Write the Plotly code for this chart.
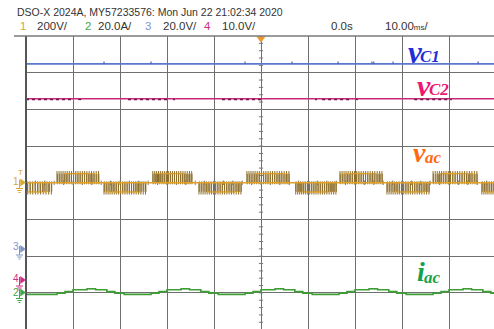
import plotly.graph_objects as go

# ---------------- display geometry (pixels) ----------------
FIG_W, FIG_H = 494, 329
PLOT_L, PLOT_T = 26, 36
DIV_PX_X, DIV_PX_Y = 47.0, 36.7
MS_PER_DIV = 10.0
PLOT_W = FIG_W - PLOT_L
PLOT_H = FIG_H - PLOT_T
X_MIN = -5 * MS_PER_DIV
X_MAX = X_MIN + PLOT_W / DIV_PX_X * MS_PER_DIV
Y_MAX = 4.0
Y_MIN = Y_MAX - PLOT_H / DIV_PX_Y

# ---------------- channel setup ----------------
ch_scale = {"1": 200.0, "2": 20.0, "3": 20.0, "4": 10.0}       # units / div
ch_ground_div = {"1": 0.0, "2": -2.99, "3": -1.81, "4": -2.66}  # ground marker, div from centre
ch_color = {"1": "#d9a82a", "2": "#3fa64a", "3": "#7f93c9", "4": "#cc2f84"}

# ---------------- capacitor voltages ----------------
vc1_level = 101.0
vc1_spike_t = [-33.4, -23.4, -3.4, 6.6, 16.4, 23.6, 24.0, 28.1, 46.2]
vc1_spike_v = 1.3
vc2_level = 49.5
vc2_ripple_start = [-50.0, -38.9, -28.3, -18.7, -8.3, 11.5, 13.0, 20.2, 32.6]
vc2_ripple_end = [-40.2, -37.9, -19.8, -18.3, 0.2, 11.9, 19.4, 20.6, 40.6]
vc2_ripple_v = -0.2

# ---------------- output voltage (PWM half-cycles, ms) ----------------
vac_band_start = [-55.0, -43.6, -33.6, -23.2, -13.4, -3.2, 7.2, 16.6, 26.6, 36.4, 46.8]
vac_band_end = [-44.3, -34.3, -24.3, -14.5, -4.0, 6.2, 16.2, 26.0, 36.0, 46.2, 56.0]
vac_band_sign = [-1, 1, -1, 1, -1, 1, -1, 1, -1, 1, -1]
vac_level = 50.0
vac_overshoot = 14.0
vac_undershoot = 8.0
# switching instants as fractions of each half-cycle
pwm_on = [0.021, 0.068, 0.114, 0.160, 0.207, 0.255, 0.303, 0.352, 0.401, 0.451,
          0.501, 0.551, 0.602, 0.653, 0.705, 0.757, 0.810, 0.864, 0.918, 0.971]
pwm_off = [0.029, 0.083, 0.136, 0.190, 0.243, 0.296, 0.348, 0.399, 0.449, 0.499,
           0.549, 0.599, 0.649, 0.698, 0.746, 0.793, 0.840, 0.886, 0.933, 0.979]

# ---------------- output current (staircase, ms / A) ----------------
iac_t = [-50.0,
         -43.4, -41.7, -40.0, -37.0, -36.4, -36.4, -35.8, -35.8, -35.2, -32.8, -31.1, -29.1,
         -23.4, -21.7, -20.0, -17.0, -16.4, -16.4, -15.8, -15.8, -15.2, -12.8, -11.1, -9.1,
         -3.4, -1.7, 0.0, 3.0, 3.6, 3.6, 4.2, 4.2, 4.8, 7.2, 8.9, 10.9,
         16.6, 18.3, 20.0, 23.0, 23.6, 23.6, 24.2, 24.2, 24.8, 27.2, 28.9, 30.9,
         36.6, 38.3, 40.0, 43.0, 43.6, 43.6, 44.2, 44.2, 44.8, 47.2, 48.9, 50.9]
iac_a = [-1.0,
         -0.3, 0.5, 1.5, 2.05, 1.5, 2.05, 1.5, 2.05, 1.5, 0.5, -0.3, -1.0,
         -0.3, 0.5, 1.5, 2.05, 1.5, 2.05, 1.5, 2.05, 1.5, 0.5, -0.3, -1.0,
         -0.3, 0.5, 1.5, 2.05, 1.5, 2.05, 1.5, 2.05, 1.5, 0.5, -0.3, -1.0,
         -0.3, 0.5, 1.5, 2.05, 1.5, 2.05, 1.5, 2.05, 1.5, 0.5, -0.3, -1.0,
         -0.3, 0.5, 1.5, 2.05, 1.5, 2.05, 1.5, 2.05, 1.5, 0.5, -0.3, -1.0]


def to_div(ch, v):
    return ch_ground_div[ch] + v / ch_scale[ch]


def px_x(px):
    return (px - PLOT_L) / PLOT_W


def px_y(py):
    return (FIG_H - py) / PLOT_H


fig = go.Figure()

# ---------- graticule centre-axis minor ticks ----------
tick_x, tick_y = [], []
k = 0
while Y_MAX - k * 0.2 >= Y_MIN:
    yv = Y_MAX - k * 0.2
    tick_x += [-0.45, 0.45, None]
    tick_y += [yv, yv, None]
    k += 1
k = 0
while X_MIN + k * 2.0 <= X_MAX:
    xv = X_MIN + k * 2.0
    tick_x += [xv, xv, None]
    tick_y += [-0.06, 0.06, None]
    k += 1
fig.add_trace(go.Scatter(x=tick_x, y=tick_y, mode="lines",
                         line=dict(color="#7a7a7a", width=1), hoverinfo="skip"))

# ---------- channel 3: vC1 ----------
fig.add_trace(go.Scatter(x=[X_MIN, X_MAX], y=[to_div("3", vc1_level)] * 2, mode="lines",
                         line=dict(color="#5a78cc", width=1.6), hoverinfo="skip"))
sp_x, sp_y = [], []
for t in vc1_spike_t:
    sp_x += [t, t, None]
    sp_y += [to_div("3", vc1_level), to_div("3", vc1_level + vc1_spike_v), None]
fig.add_trace(go.Scatter(x=sp_x, y=sp_y, mode="lines",
                         line=dict(color="#4a62b0", width=1.2), hoverinfo="skip"))

# ---------- channel 4: vC2 ----------
fig.add_trace(go.Scatter(x=[X_MIN, X_MAX], y=[to_div("4", vc2_level)] * 2, mode="lines",
                         line=dict(color="#c8287e", width=1.6), hoverinfo="skip"))
rp_x, rp_y = [], []
for a, b in zip(vc2_ripple_start, vc2_ripple_end):
    rp_x += [a, b, None]
    rp_y += [to_div("4", vc2_level + vc2_ripple_v)] * 2 + [None]
fig.add_trace(go.Scatter(x=rp_x, y=rp_y, mode="lines",
                         line=dict(color="#7a1448", width=1.3, dash="dot"), hoverinfo="skip"))

# ---------- channel 1: vac ----------
edge_x, edge_y, flat_x, flat_y = [], [], [X_MIN, X_MAX, None], [0.0, 0.0, None]
for s, e, sg in zip(vac_band_start, vac_band_end, vac_band_sign):
    span = e - s
    for a, b in zip(pwm_on, pwm_off):
        t0, t1 = s + a * span, s + b * span
        edge_x += [t0, t0, None, t1, t1, None]
        edge_y += [to_div("1", 0.0), to_div("1", sg * (vac_level + vac_overshoot)), None,
                   to_div("1", sg * vac_level), to_div("1", -sg * vac_undershoot), None]
        flat_x += [t0, t1, None]
        flat_y += [to_div("1", sg * vac_level)] * 2 + [None]
fig.add_trace(go.Scatter(x=edge_x, y=edge_y, mode="lines",
                         line=dict(color="#8c6e2c", width=1), hoverinfo="skip"))
fig.add_trace(go.Scatter(x=flat_x, y=flat_y, mode="lines",
                         line=dict(color="#e2a024", width=1.4), hoverinfo="skip"))

# ---------- channel 2: iac ----------
fig.add_trace(go.Scatter(x=iac_t, y=[to_div("2", v) for v in iac_a], mode="lines",
                         line=dict(color="#3f9d36", width=1.6, shape="hv"), hoverinfo="skip"))

# ---------- trigger position marker ----------
fig.add_trace(go.Scatter(x=[0], y=[Y_MAX - 0.07], mode="markers", cliponaxis=False,
                         marker=dict(symbol="triangle-down", size=8, color="#f0962c"),
                         hoverinfo="skip"))

shapes = []
# outer frame: left edge and top edge
shapes.append(dict(type="line", xref="paper", yref="paper", x0=0, x1=0, y0=0, y1=1,
                   line=dict(color="#555555", width=2)))
shapes.append(dict(type="line", xref="paper", yref="paper", x0=px_x(14), x1=1, y0=1, y1=1,
                   line=dict(color="#7a7a7a", width=1.5)))

annotations = []
hdr_font = "Liberation Sans, Arial, sans-serif"

# ---------- channel ground markers ----------
marker_specs = [("1", 182.5, 181.0), ("3", 249.0, 246.5), ("4", 280.0, 278.5), ("2", 292.5, 292.5)]
for ch, ya, yl in marker_specs:
    col = ch_color[ch]
    annotations.append(dict(text=ch, x=px_x(15.5), y=px_y(yl), xref="paper", yref="paper",
                            showarrow=False, xanchor="center", yanchor="middle",
                            font=dict(family=hdr_font, size=10, color=col)))
    shapes.append(dict(type="path", xref="paper", yref="paper",
                       path=f"M {px_x(20.5)},{px_y(ya - 3.5)} L {px_x(25.5)},{px_y(ya)} L {px_x(20.5)},{px_y(ya + 3.5)} Z",
                       fillcolor=col, line=dict(color=col, width=0.5)))
    shapes.append(dict(type="line", xref="paper", yref="paper", x0=px_x(19.5), x1=px_x(19.5),
                       y0=px_y(ya - 3), y1=px_y(ya + 6), line=dict(color=col, width=1)))
    for dy, hw in [(6, 3.5), (8, 2.2), (10, 1)]:
        shapes.append(dict(type="line", xref="paper", yref="paper",
                           x0=px_x(19.5 - hw), x1=px_x(19.5 + hw),
                           y0=px_y(ya + dy), y1=px_y(ya + dy), line=dict(color=col, width=1)))
# trigger level tag on channel 1
annotations.append(dict(text="T", x=px_x(20), y=px_y(172.5), xref="paper", yref="paper",
                        showarrow=False, xanchor="center", yanchor="middle",
                        font=dict(family=hdr_font, size=8, color=ch_color["1"])))

# ---------- header ----------
annotations.append(dict(text="DSO-X 2024A, MY57233576: Mon Jun 22 21:02:34 2020",
                        x=px_x(15), y=px_y(12), xref="paper", yref="paper", showarrow=False,
                        xanchor="left", yanchor="middle",
                        font=dict(family=hdr_font, size=10.5, color="#333333")))
status_items = [("1", 18, ch_color["1"]), ("200V/", 35, "#333333"),
                ("2", 83, ch_color["2"]), ("20.0A/", 96, "#333333"),
                ("3", 143, ch_color["3"]), ("20.0V/", 161, "#333333"),
                ("4", 202, ch_color["4"]), ("10.0V/", 220, "#333333"),
                ("0.0s", 329, "#333333"),
                ("10.00<span style='font-size:8px'>ms</span>/", 383, "#333333")]
for txt, x0, col in status_items:
    annotations.append(dict(text=txt, x=px_x(x0), y=px_y(26), xref="paper", yref="paper",
                            showarrow=False, xanchor="left", yanchor="middle",
                            font=dict(family=hdr_font, size=11.5, color=col)))

# ---------- waveform names ----------
lab_font = "Liberation Serif, Times New Roman, serif"
labels = [("v", "C1", 406, 52, 57, "#1f2fd8", 31),
          ("v", "C2", 415, 85, 89, "#ee1872", 30),
          ("v", "ac", 411, 152, 157, "#ff6a10", 28),
          ("i", "ac", 415, 271, 277, "#16a24a", 28)]
for main, sub, x0, ym, ys, col, fs in labels:
    annotations.append(dict(text=f"<b><i>{main}</i></b>", x=px_x(x0), y=px_y(ym),
                            xref="paper", yref="paper", showarrow=False,
                            xanchor="left", yanchor="middle",
                            font=dict(family=lab_font, size=fs, color=col)))
    annotations.append(dict(text=f"<b><i>{sub}</i></b>", x=px_x(x0 + (12 if main == "v" else 7)),
                            y=px_y(ys), xref="paper", yref="paper", showarrow=False,
                            xanchor="left", yanchor="middle",
                            font=dict(family=lab_font, size=17, color=col)))

fig.update_layout(
    width=FIG_W, height=FIG_H,
    margin=dict(l=PLOT_L, r=0, t=PLOT_T, b=0),
    paper_bgcolor="white", plot_bgcolor="white",
    showlegend=False,
    shapes=shapes, annotations=annotations,
    xaxis=dict(range=[X_MIN, X_MAX], tickmode="linear", tick0=0, dtick=MS_PER_DIV,
               showgrid=True, gridcolor="#6f6f6f", gridwidth=1.3,
               zeroline=False, showticklabels=False, ticks="", fixedrange=True),
    yaxis=dict(range=[Y_MIN, Y_MAX], tickmode="linear", tick0=0, dtick=1,
               showgrid=True, gridcolor="#6f6f6f", gridwidth=1.3,
               zeroline=False, showticklabels=False, ticks="", fixedrange=True),
)

fig.write_html("out.html")
